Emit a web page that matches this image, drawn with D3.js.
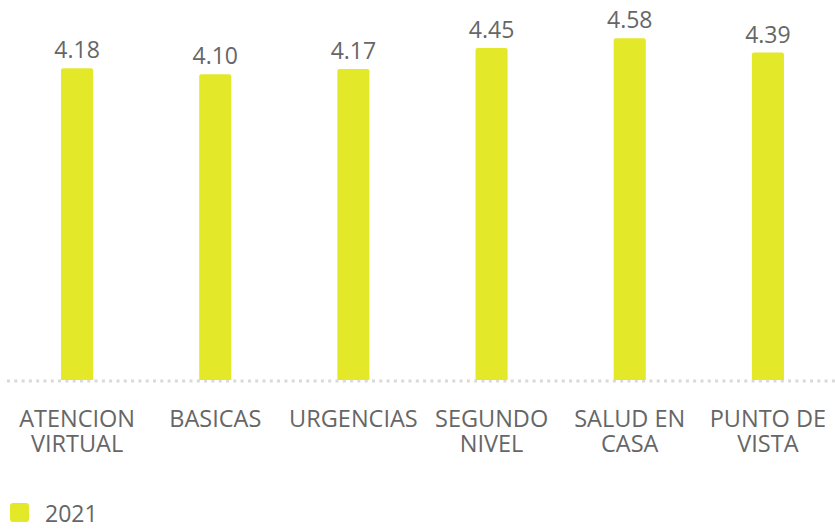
<!DOCTYPE html>
<html>
<head>
<meta charset="utf-8">
<script src="https://cdn.jsdelivr.net/npm/d3@7"></script>
<style>
  body { margin: 0; background: #fff; }
  text { font-family: "Open Sans", sans-serif; fill: #666; }
</style>
</head>
<body>
<div id="chart"></div>
<script>
var categories = ["ATENCION VIRTUAL", "BASICAS", "URGENCIAS", "SEGUNDO NIVEL", "SALUD EN CASA", "PUNTO DE VISTA"]
var labelLines = [["ATENCION", "VIRTUAL"], ["BASICAS"], ["URGENCIAS"], ["SEGUNDO", "NIVEL"], ["SALUD EN", "CASA"], ["PUNTO DE", "VISTA"]]
var values2021 = [4.18, 4.10, 4.17, 4.45, 4.58, 4.39]
var seriesName = "2021"

var width = 835, height = 529
var barColor = "#e3e829"

var svg = d3.select("#chart")
    .append("svg")
    .attr("width", width)
    .attr("height", height)

var x = d3.scaleBand()
    .domain(categories)
    .range([8, 837])
    .paddingInner(0.768)
    .paddingOuter(0.384)

var y = d3.scaleLinear()
    .domain([0, 5])
    .range([380, 7])

// baseline (dotted)
svg.append("line")
    .attr("x1", 7)
    .attr("x2", width)
    .attr("y1", y(0) + 1)
    .attr("y2", y(0) + 1)
    .attr("stroke", "#d9d9d9")
    .attr("stroke-width", 3)
    .attr("stroke-dasharray", "3,4.3")

// bars with slightly rounded top
svg.selectAll(".bar")
    .data(values2021)
    .enter().append("path")
    .attr("class", "bar")
    .attr("fill", barColor)
    .attr("d", function(d, i) {
        var x0 = x(categories[i]), w = x.bandwidth(), top = y(d), bot = y(0), r = 2
        return "M" + x0 + "," + bot + "V" + (top + r) + "Q" + x0 + "," + top + " " + (x0 + r) + "," + top +
            "H" + (x0 + w - r) + "Q" + (x0 + w) + "," + top + " " + (x0 + w) + "," + (top + r) + "V" + bot + "Z"
    })

// value labels
svg.selectAll(".val")
    .data(values2021)
    .enter().append("text")
    .attr("class", "val")
    .attr("x", (d, i) => x(categories[i]) + x.bandwidth() / 2)
    .attr("y", d => y(d) - 10)
    .attr("text-anchor", "middle")
    .style("font-size", "23px")
    .text(d => d.toFixed(2))

// category labels
var cat = svg.selectAll(".cat")
    .data(labelLines)
    .enter().append("text")
    .attr("class", "cat")
    .attr("text-anchor", "middle")
    .style("font-size", "23.5px")
    .attr("transform", (d, i) => "translate(" + (x(categories[i]) + x.bandwidth() / 2) + ",427)")

cat.selectAll("tspan")
    .data(d => d)
    .enter().append("tspan")
    .attr("x", 0)
    .attr("y", (d, j) => j * 25)
    .text(d => d)

// legend
var legend = svg.append("g").attr("transform", "translate(10,503)")
legend.append("rect")
    .attr("width", 19)
    .attr("height", 19)
    .attr("rx", 3)
    .attr("fill", barColor)
legend.append("text")
    .attr("x", 35)
    .attr("y", 19)
    .style("font-size", "23px")
    .text(seriesName)
</script>
</body>
</html>
